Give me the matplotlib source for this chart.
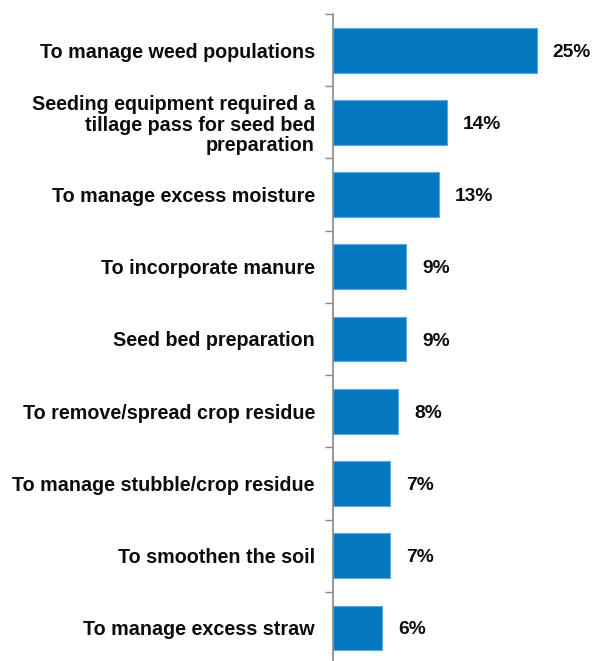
import matplotlib
matplotlib.use('Agg')
import matplotlib.pyplot as plt
import numpy as np

categories = [
    'To manage weed populations',
    'Seeding equipment required a\ntillage pass for seed bed\npreparation',
    'To manage excess moisture',
    'To incorporate manure',
    'Seed bed preparation',
    'To remove/spread crop residue',
    'To manage stubble/crop residue',
    'To smoothen the soil',
    'To manage excess straw',
]
values = [25, 14, 13, 9, 9, 8, 7, 7, 6]

plt.rcParams['font.family'] = ['Liberation Sans', 'DejaVu Sans']
plt.rcParams['font.weight'] = 'bold'

fig = plt.figure(figsize=(5.93, 6.61), dpi=100)
ax = fig.add_axes([333 / 593, -3 / 661, 260 / 593, 650 / 661])

y = np.arange(len(categories))
ax.barh(y, values, height=0.62, color='#0479C1', edgecolor='#5AA5DD', linewidth=0.8)
for yi, v in zip(y, values):
    ax.text(v + 1.95, yi, f'{v}%', va='center_baseline', ha='left', fontsize=13.8,
            fontweight='bold', color='#0d0d0d')

ax.set_ylim(len(categories) - 0.5, -0.5)
ax.set_xlim(0, 31.9)
ax.set_yticks(y)
ax.set_yticklabels(categories, fontsize=14.2, fontweight='bold', color='#0d0d0d',
                   ha='right', multialignment='right', linespacing=1.1)
ax.tick_params(axis='y', which='major', length=0, pad=13)
ax.set_yticks(np.arange(-0.5, len(categories), 1.0), minor=True)
ax.tick_params(axis='y', which='minor', length=6, color='#888888', width=1)
ax.set_xticks([])
for s in ['top', 'right', 'bottom']:
    ax.spines[s].set_visible(False)
ax.spines['left'].set_color('#888888')
ax.spines['left'].set_linewidth(1.2)

fig.savefig('out.png', dpi=100)
